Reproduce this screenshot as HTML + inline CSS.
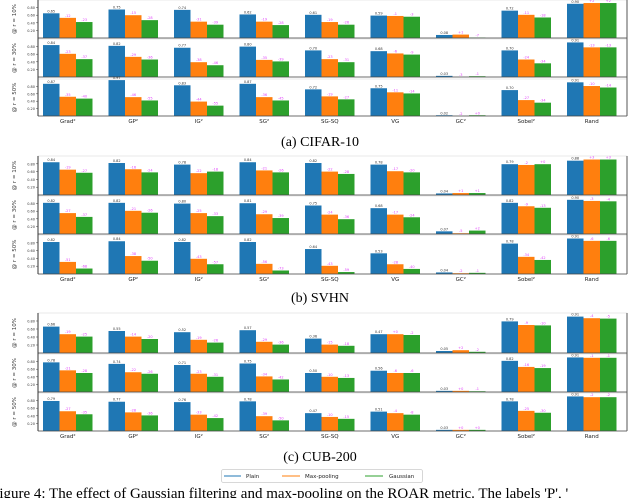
<!DOCTYPE html>
<html><head><meta charset="utf-8">
<style>
html,body{margin:0;padding:0;background:#fff;width:640px;height:498px;overflow:hidden;}
svg{display:block;font-family:"DejaVu Sans","Liberation Sans",sans-serif;}
.cap{font-family:"Liberation Serif",serif;}
</style></head>
<body>
<svg id="fig" width="640" height="498" viewBox="0 0 640 498">
  <text class="cap" x="320" y="146" font-size="14" text-anchor="middle" fill="#000">(a) CIFAR-10</text>
  <text class="cap" x="320" y="302" font-size="14" text-anchor="middle" fill="#000">(b) SVHN</text>
  <text class="cap" x="320" y="461" font-size="14" text-anchor="middle" fill="#000">(c) CUB-200</text>
  <g>
    <rect x="221.5" y="469.5" width="201" height="13" rx="2" fill="#fff" stroke="#ccc" stroke-width="0.8"/>
    <line x1="224" y1="476" x2="241" y2="476" stroke="#1f77b4" stroke-width="1"/>
    <text x="246" y="478" font-size="5.5" fill="#222">Plain</text>
    <line x1="282" y1="476" x2="300" y2="476" stroke="#ff7f0e" stroke-width="1"/>
    <text x="305" y="478" font-size="5.5" fill="#222">Max-pooling</text>
    <line x1="365" y1="476" x2="383" y2="476" stroke="#2ca02c" stroke-width="1"/>
    <text x="389" y="478" font-size="5.5" fill="#222">Gaussian</text>
  </g>
  <text class="cap" x="-9" y="498" font-size="15" fill="#000">Figure 4: The effect of Gaussian filtering and max-pooling on the ROAR metric. The labels 'P', '</text>
</svg>
<script>
const methods = ["Grad²","GP²","IG²","SG²","SG-SQ","VG","GC²","Sobel²","Rand"];
const rowLabels = ["@ r = 10%","@ r = 30%","@ r = 50%"];
const seriesNames = ["Plain","Max-pooling","Gaussian"];
// CIFAR-10: rows r=10,30,50 ; per row [plain],[maxpool],[gauss]
const cifarPlain = [[65,75,74,62,61,59,8,72,90],[84,82,77,80,70,68,3,70,91],[87,97,83,87,72,75,2,70,91]];
const cifarMax   = [[53,60,43,43,42,58,9,61,92],[61,53,39,45,47,62,0,46,78],[52,51,39,51,53,64,0,43,81]];
const cifarGauss = [[42,47,35,34,35,56,1,54,92],[47,46,31,41,39,59,2,36,78],[47,42,28,42,45,61,2,36,77]];
// SVHN
const svhnPlain = [[84,82,78,84,82,78,4,79,88],[82,82,80,81,75,68,7,82,90],[82,84,82,82,64,53,4,78,91]];
const svhnMax   = [[65,66,56,63,60,61,5,77,91],[55,61,55,52,51,51,2,73,87],[31,46,39,26,21,25,2,44,85]];
const svhnGauss = [[57,58,60,58,54,58,5,79,91],[45,56,47,42,39,44,9,69,86],[14,34,25,9,5,13,3,36,85]];
// CUB-200
const cubPlain = [[66,55,52,57,36,47,5,79,91],[78,74,71,75,50,56,3,82,91],[79,77,76,78,47,51,3,78,91]];
const cubMax   = [[47,41,33,28,21,47,7,70,87],[57,52,48,41,40,50,3,66,90],[52,49,43,39,37,47,3,53,89]];
const cubGauss = [[41,35,26,21,18,45,3,69,86],[50,48,40,33,37,50,2,63,90],[44,41,34,28,32,43,3,48,89]];

const colors = ["#1f77b4","#ff7f0e","#2ca02c"];
const NS = "http://www.w3.org/2000/svg";
const svg = document.getElementById("fig");
function mk(tag, attrs, parent){ const e=document.createElementNS(NS,tag); for(const k in attrs) e.setAttribute(k,attrs[k]); (parent||svg).appendChild(e); return e; }

const axLeft = 38, axRight = 627, groupStart = 43, groupStep = 65.5, barW = 16.5;
function xScale(g, s){ return groupStart + g*groupStep + s*barW; }

function drawPanel(name, rows, labelY, plain, maxp, gauss){
  const panel = mk("g", {});
  
  
  const series = [plain, maxp, gauss];
  rows.forEach((r, ri) => {
    const top = r[0], bottom = r[1], h = bottom - top;
    const yScale = v => bottom - v/100*h;
    const row = mk("g", {}, panel);
    
    
    mk("rect", {x:axLeft, y:top, width:axRight-axLeft, height:h, fill:"none", stroke:"#ddd", "stroke-width":0.6}, row);
    // ticks
    [20,40,60,80].forEach(t => {
      const ty = yScale(t);
      mk("line",{x1:axLeft-2,y1:ty,x2:axLeft,y2:ty,stroke:"#444","stroke-width":0.5},row);
      const tt = mk("text",{x:axLeft-3,y:ty+1.5,"font-size":3.5,"text-anchor":"end",fill:"#333"},row);
      tt.textContent = (t/100).toFixed(2);
      
      
    });
    const yl = mk("text",{x:0,y:0,"font-size":5.5,"text-anchor":"middle",fill:"#333",transform:`translate(16 ${(top+bottom)/2}) rotate(-90)`},row);
    yl.textContent = rowLabels[ri];
    
    
    for(let s=0;s<3;s++){
      for(let g=0; g<methods.length; g++){
        const v = series[s][ri][g];
        const x = xScale(g, s), y = yScale(v);
        const b = mk("rect",{x:x, y:y, width:barW, height:bottom-y, fill:colors[s]},row);
        
        
        const vt = mk("text",{x:x+barW/2, y:y-1, "font-size":3.5, "text-anchor":"middle", fill: s===0 ? "#333" : "#e040fb"},row);
        vt.textContent = s===0 ? (v/100).toFixed(2) : ((v>=series[0][ri][g]?"+":"-") + Math.abs(v-series[0][ri][g]).toFixed(0));
        
        
      }
    }
    mk("line",{x1:axLeft,y1:bottom,x2:axRight,y2:bottom,stroke:"#444","stroke-width":0.8},row);
  });
  mk("line",{x1:axLeft,y1:rows[0][0],x2:axLeft,y2:rows[2][1],stroke:"#333","stroke-width":1},panel);
  mk("line",{x1:axRight,y1:rows[0][0],x2:axRight,y2:rows[2][1],stroke:"#555","stroke-width":1},panel);
  methods.forEach((m,g) => {
    const t = mk("text",{x:xScale(g,1.5), y:labelY, "font-size":5.5, "text-anchor":"middle", fill:"#222"},panel);
    t.textContent = m;
    
    
  });
}
drawPanel("cifar10", [[0,38],[39,77],[79,116]], 123, cifarPlain, cifarMax, cifarGauss);
drawPanel("svhn", [[156,195],[196,234],[235,274]], 281, svhnPlain, svhnMax, svhnGauss);
drawPanel("cub200", [[313,353],[354,392],[393,431]], 438, cubPlain, cubMax, cubGauss);
</script>
</body></html>
